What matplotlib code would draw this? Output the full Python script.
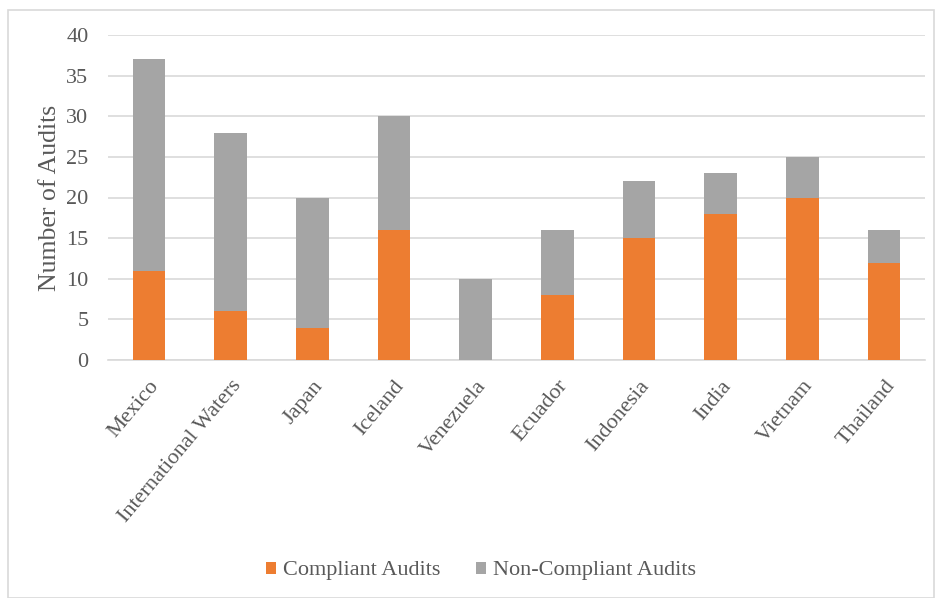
import numpy as np
import matplotlib.pyplot as plt
from matplotlib.patches import Rectangle

countries = ["Mexico", "International Waters", "Japan", "Iceland", "Venezuela",
             "Ecuador", "Indonesia", "India", "Vietnam", "Thailand"]
compliant = [11, 6, 4, 16, 0, 8, 15, 18, 20, 12]
non_compliant = [26, 22, 16, 14, 10, 8, 7, 5, 5, 4]

plt.rcParams['font.family'] = ['Liberation Serif', 'DejaVu Serif']
text_color = "#595959"

fig = plt.figure(figsize=(9.35, 5.98), dpi=100)
fig.patches.append(Rectangle((8 / 935, 0), 1 - 8 / 935 - 1 / 935, 1 - 10 / 598,
                             transform=fig.transFigure, fill=False,
                             edgecolor="#d9d9d9", linewidth=1.2))
ax = fig.add_axes([108 / 935, 1 - 360 / 598, (925 - 108) / 935, (360 - 35) / 598])

x = np.arange(len(countries))
ax.bar(x, compliant, width=0.4, color="#ED7D31", label="Compliant Audits", zorder=3)
ax.bar(x, non_compliant, width=0.4, bottom=compliant, color="#A5A5A5",
       label="Non-Compliant Audits", zorder=3)

ax.set_xlim(-0.5, len(countries) - 0.5)
ax.set_ylim(0, 40)
ax.set_yticks(range(0, 41, 5))
ax.yaxis.grid(True, color="#d9d9d9", linewidth=1.2, zorder=0)
for s in ["top", "right", "left"]:
    ax.spines[s].set_visible(False)
ax.spines["bottom"].set_color("#d9d9d9")
ax.spines["bottom"].set_linewidth(1.2)
ax.tick_params(length=0, labelsize=16, colors=text_color)
ax.tick_params(axis="y", pad=14)
ax.tick_params(axis="x", pad=12)
ax.set_xticks(x)
ax.set_xticklabels(countries, rotation=50, ha="right", va="top", rotation_mode="anchor")
ax.set_ylabel("Number of Audits", fontsize=18.5, color=text_color)
ax.yaxis.set_label_coords(-47 / 817, 0.5)

fig.legend(loc="center", bbox_to_anchor=(481 / 935, 1 - 571 / 598), ncol=2,
           frameon=False, fontsize=16, labelcolor=text_color, handlelength=0.45,
           handleheight=0.45, handletextpad=0.3, columnspacing=1.6)

fig.savefig("out.png", dpi=100)
